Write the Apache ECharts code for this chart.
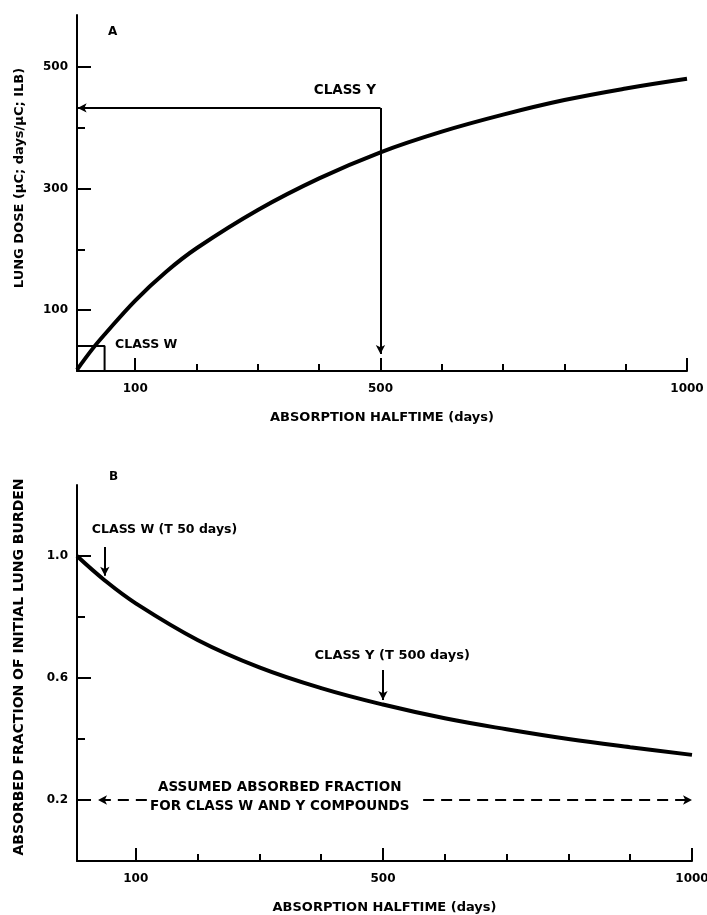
<!DOCTYPE html>
<html><head><meta charset="utf-8">
<script src="https://cdn.jsdelivr.net/npm/echarts@6/dist/echarts.min.js"></script>
<style>html,body{margin:0;padding:0;background:#fff}#c{width:707px;height:915px}</style>
</head><body><div id="c"></div>
<script>
// ---- data ----
const topHalftime = [5, 30, 50, 100, 150, 200, 300, 400, 500, 600, 700, 800, 900, 1000];
const topDose     = [2, 36, 60, 116, 163, 202, 265, 317, 360, 394, 422, 446, 465, 481];
const botHalftime = [5, 50, 100, 200, 300, 400, 500, 600, 700, 800, 900, 1000];
const botFraction = [1.0, 0.92, 0.845, 0.725, 0.635, 0.567, 0.513, 0.468, 0.432, 0.40, 0.373, 0.348];
const xMajorTicks = [100, 500, 1000];
const xMinorTicks = [200, 300, 400, 600, 700, 800, 900];
const topYMajor = [100, 300, 500];
const topYMinor = [200, 400];
const botYMajor = [0.2, 0.6, 1.0];
const botYMinor = [0.4, 0.8];
const classWBox = [[5, 41], [50, 41], [50, 0]];
const classYHalftime = 500, classYDose = 433;
const classWHalftime = 50;
const assumedFraction = 0.2;

const FONT = 'DejaVu Sans';
const black = '#000';
function tx(size) { return {fontFamily: FONT, fontWeight: 'bold', fontSize: size, color: black}; }

function xAxes(grid, name) {
  return [{
    gridIndex: grid, type: 'value', min: 5, max: 1000, position: 'bottom',
    axisLine: {lineStyle: {color: black, width: 2}},
    axisTick: {customValues: xMajorTicks, inside: true, length: 13, lineStyle: {color: black, width: 2}},
    axisLabel: Object.assign({customValues: xMajorTicks, margin: 12, formatter: v => String(v)}, tx(12)),
    splitLine: {show: false},
    name: name, nameLocation: 'middle', nameGap: 40, nameTextStyle: tx(13)
  }, {
    gridIndex: grid, type: 'value', min: 5, max: 1000, position: 'bottom',
    axisLine: {show: false},
    axisTick: {customValues: xMinorTicks, inside: true, length: 7, lineStyle: {color: black, width: 2}},
    axisLabel: {show: false}, splitLine: {show: false}
  }];
}
function yAxes(grid, max, major, minor, name, fmt, pad, nameSize) {
  return [{
    gridIndex: grid, type: 'value', min: 0, max: max, position: 'left',
    axisLine: {show: true, lineStyle: {color: black, width: 2}},
    axisTick: {show: true, customValues: major, inside: true, length: 14, lineStyle: {color: black, width: 2}},
    axisLabel: Object.assign({customValues: major, margin: 9, formatter: fmt}, tx(12)),
    splitLine: {show: false},
    name: name, nameLocation: 'middle', nameRotate: 90, nameGap: 51,
    nameTextStyle: Object.assign({padding: pad}, tx(nameSize))
  }, {
    gridIndex: grid, type: 'value', min: 0, max: max, position: 'left',
    axisLine: {show: false},
    axisTick: {show: true, customValues: minor, inside: true, length: 8, lineStyle: {color: black, width: 2}},
    axisLabel: {show: false}, splitLine: {show: false}
  }];
}
function textPoint(coord, text, align, size) {
  return {coord: coord, name: text,
    label: Object.assign({show: true, position: [0, 0], align: align || 'left', verticalAlign: 'middle',
      formatter: '{b}', lineHeight: 19}, tx(size || 13))};
}

const chart = echarts.init(document.getElementById('c'), null, {renderer: 'canvas'});
chart.setOption({
  backgroundColor: '#fff',
  animation: false,
  title: [
    {text: 'A', left: 108, top: 26, padding: 0, textStyle: tx(12)},
    {text: 'B', left: 109, top: 471, padding: 0, textStyle: tx(12)}
  ],
  grid: [
    {left: 77, right: 20, top: 15, height: 356, outerBoundsMode: 'none', containLabel: false},
    {left: 77, right: 15, top: 485, height: 376, outerBoundsMode: 'none', containLabel: false}
  ],
  xAxis: [].concat(xAxes(0, 'ABSORPTION HALFTIME (days)'), xAxes(1, 'ABSORPTION HALFTIME (days)')),
  yAxis: [].concat(
    yAxes(0, 586, topYMajor, topYMinor, 'LUNG DOSE (\u00b5C; days/\u00b5C; ILB)', v => String(v), [0, 0, 0, 30], 13),
    yAxes(1, 1.233, botYMajor, botYMinor, 'ABSORBED FRACTION OF INITIAL LUNG BURDEN', v => v.toFixed(1), [0, 0, 0, 12], 14)
  ),
  series: [
    {
      type: 'line', xAxisIndex: 0, yAxisIndex: 0, smooth: 0.4, showSymbol: false, symbol: 'none',
      data: topHalftime.map((x, i) => [x, topDose[i]]),
      lineStyle: {color: black, width: 4}, silent: true,
      markLine: {
        silent: true, symbol: ['none', 'arrow'], symbolSize: [7, 9],
        label: {show: false}, lineStyle: {color: black, width: 2, type: 'solid'},
        data: [
          [{coord: [classYHalftime, classYDose]}, {coord: [6, classYDose]}],
          [{coord: [classYHalftime, classYDose]}, {coord: [classYHalftime, 28]}]
        ]
      },
      markPoint: {
        silent: true, symbol: 'circle', symbolSize: 0,
        data: [
          textPoint([442, 462], 'CLASS Y', 'center', 13.5),
          textPoint([67, 43], 'CLASS W', 'left', 12.5)
        ]
      }
    },
    {
      type: 'line', xAxisIndex: 0, yAxisIndex: 0, showSymbol: false, symbol: 'none', silent: true,
      data: classWBox, lineStyle: {color: black, width: 2}
    },
    {
      type: 'line', xAxisIndex: 2, yAxisIndex: 2, smooth: 0.4, showSymbol: false, symbol: 'none',
      data: botHalftime.map((x, i) => [x, botFraction[i]]),
      lineStyle: {color: black, width: 4}, silent: true,
      markLine: {
        silent: true, symbol: ['none', 'arrow'], symbolSize: [7, 9],
        label: {show: false}, lineStyle: {color: black, width: 2, type: 'solid'},
        data: [
          [{coord: [classWHalftime, 1.03]}, {coord: [classWHalftime, 0.935]}],
          [{coord: [classYHalftime, 0.626]}, {coord: [classYHalftime, 0.528]}],
          [{coord: [118, assumedFraction], lineStyle: {type: [11, 7]}}, {coord: [39, assumedFraction]}],
          [{coord: [565, assumedFraction], lineStyle: {type: [11, 7]}}, {coord: [1000, assumedFraction]}]
        ]
      },
      markPoint: {
        silent: true, symbol: 'circle', symbolSize: 0,
        data: [
          textPoint([29, 1.085], 'CLASS W (T 50 days)', 'left', 12.5),
          textPoint([515, 0.675], 'CLASS Y (T 500 days)', 'center', 13),
          textPoint([333, 0.21], 'ASSUMED ABSORBED FRACTION\nFOR CLASS W AND Y COMPOUNDS', 'center', 13.5)
        ]
      }
    }
  ]
});
</script></body></html>
